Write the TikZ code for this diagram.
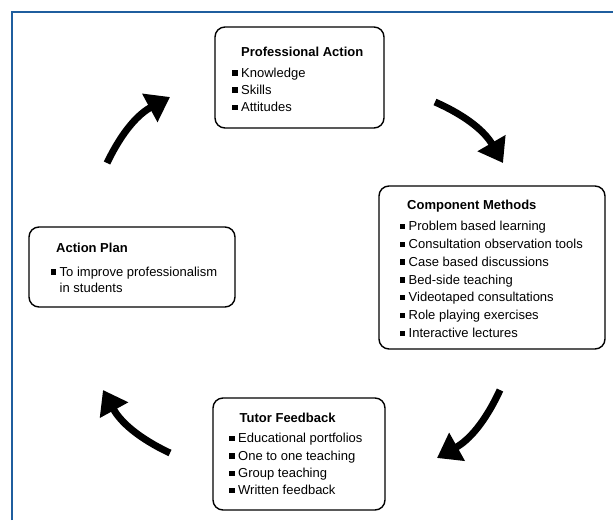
\documentclass[tikz,border=0pt]{standalone}
\usepackage{fontspec}
\setmainfont{Liberation Sans}
\usetikzlibrary{arrows.meta}
\definecolor{frameblue}{RGB}{31,94,158}
\newcommand{\bul}{\raisebox{1.5pt}{\rule{5.5pt}{5.5pt}}\hspace{3.5pt}}
\tikzset{
  box/.style={draw, line width=1.4pt, rounded corners=10pt},
  head/.style={anchor=base west, inner sep=0pt, font=\fontsize{13}{17}\selectfont\bfseries},
  item/.style={anchor=base west, inner sep=0pt, align=left, font=\fontsize{13}{16.7}\selectfont},
  cycarrow/.style={line width=7pt, -{Triangle[length=23pt,width=31pt]}}
}
\begin{document}
\begin{tikzpicture}[x=1pt,y=-1pt]
  \useasboundingbox (0,0) rectangle (613,520);
  %% frame
  \draw[frameblue, line width=2pt] (11.5,520) -- (11.5,11.5) -- (613,11.5);

  %% professional action
  \node[box, minimum width=169pt, minimum height=101pt] (pa) at (299.5,77.5) {};
  \node[head] (pa-t) at (241,56) {Professional Action};
  \node[item] (pa-1) at (232,77) {\bul Knowledge};
  \node[item] (pa-2) at (232,94.3) {\bul Skills};
  \node[item] (pa-3) at (232,111.6) {\bul Attitudes};

  %% component methods
  \node[box, minimum width=226pt, minimum height=163pt] (cm) at (492,267.5) {};
  \node[head] (cm-t) at (407,209.5) {Component Methods};
  \node[item] (cm-1) at (399.5,230.7) {\bul Problem based learning};
  \node[item] (cm-2) at (399.5,248.5) {\bul Consultation observation tools};
  \node[item] (cm-3) at (399.5,266.3) {\bul Case based discussions};
  \node[item] (cm-4) at (399.5,284.1) {\bul Bed-side teaching};
  \node[item] (cm-5) at (399.5,301.9) {\bul Videotaped consultations};
  \node[item] (cm-6) at (399.5,319.7) {\bul Role playing exercises};
  \node[item] (cm-7) at (399.5,337.5) {\bul Interactive lectures};

  %% tutor feedback
  \node[box, minimum width=172pt, minimum height=112pt] (tf) at (299,454) {};
  \node[head] (tf-t) at (239.5,422.7) {Tutor Feedback};
  \node[item] (tf-1) at (229,442.7) {\bul Educational portfolios};
  \node[item] (tf-2) at (229,460.1) {\bul One to one teaching};
  \node[item] (tf-3) at (229,477.5) {\bul Group teaching};
  \node[item] (tf-4) at (229,494.9) {\bul Written feedback};

  %% action plan
  \node[box, minimum width=206pt, minimum height=80pt] (ap) at (132,267) {};
  \node[head] (ap-t) at (56,252.3) {Action Plan};
  \node[item] (ap-1) at (50.5,292.7) {\bul To improve professionalism\\\hphantom{\bul}in students};

  %% arrows
  \coordinate (a1s) at (107,163);
  \coordinate (a1e) at (170,97);
  \coordinate (a2s) at (435,102);
  \coordinate (a2e) at (503,163);
  \coordinate (a3s) at (500,390);
  \coordinate (a3e) at (437,458);
  \coordinate (a4s) at (170,453);
  \coordinate (a4e) at (103,390);
  \draw[cycarrow] (a1s) to[bend left=18] (a1e);
  \draw[cycarrow] (a2s) to[bend left=18] (a2e);
  \draw[cycarrow] (a3s) to[bend left=18] (a3e);
  \draw[cycarrow] (a4s) to[bend left=18] (a4e);

\end{tikzpicture}
\end{document}
